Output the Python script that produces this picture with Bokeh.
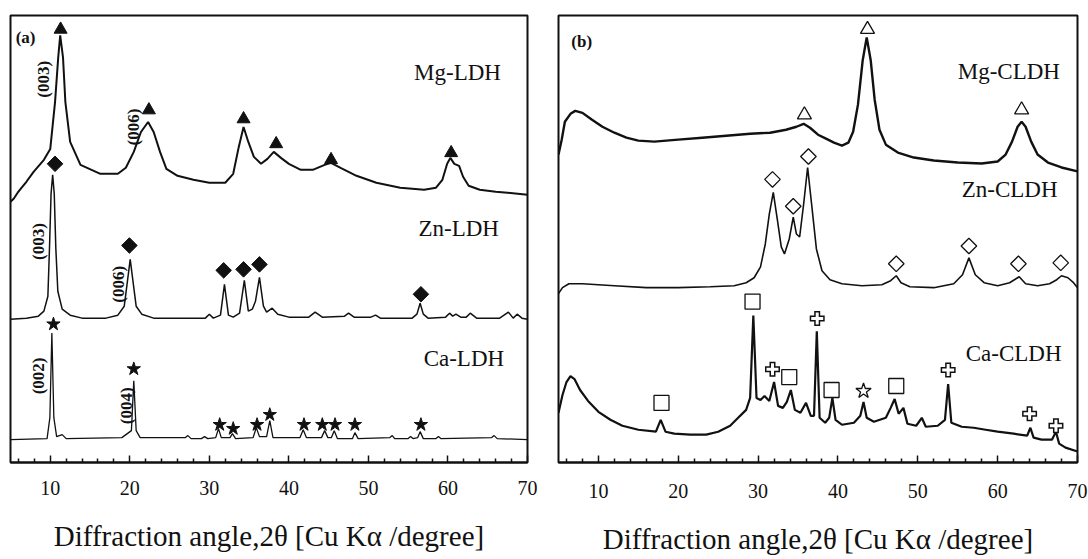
import numpy as np
from bokeh.plotting import figure
from bokeh.layouts import row
from bokeh.models import FixedTicker, Range1d
from bokeh.core.properties import value
from bokeh.embed import file_html
from bokeh.resources import INLINE

# ---------------- data: panel (a) ----------------
mg_ldh_x = [5.0, 5.4, 5.9, 6.3, 7.0, 7.9, 9.2, 10.0, 10.6, 11.0, 11.25, 11.6, 11.9, 12.5, 13.8, 16.3, 18.5, 19.5, 20.5, 21.4,
            22.3, 23.0, 23.8, 24.6, 26.0, 28.0, 30.0, 32.0, 33.0, 33.7, 34.3, 34.9, 35.6, 36.5, 37.3, 38.1, 39.0, 40.0, 41.5, 43.0,
            44.5, 45.3, 46.5, 48.5, 51.0, 54.0, 57.0, 58.5, 59.3, 59.9, 60.3, 60.8, 61.4, 61.9, 62.6, 64.0, 66.0, 67.5, 70.0]
mg_ldh_y = [262, 265, 271, 275, 282, 292, 304, 315, 362, 407, 429, 407, 362, 322, 299, 290, 290, 296, 312, 332,
            342, 332, 312, 295, 288, 284, 281, 281, 290, 317, 337, 322, 307, 300, 305, 312, 306, 300, 294, 294,
            299, 301, 296, 288, 281, 276, 274, 276, 284, 300, 306, 300, 298, 287, 278, 274, 272, 271, 269]

zn_ldh_x = [5.0, 7.0, 8.5, 9.2, 9.7, 9.9, 10.1, 10.3, 10.5, 10.7, 10.95, 11.5, 12.5, 14.0, 17.0, 18.5, 19.3, 19.7, 20.05, 20.4,
            20.8, 21.5, 23.0, 29.5, 30.0, 30.5, 31.4, 31.9, 32.4, 33.0, 33.8, 34.4, 34.9, 35.4, 35.8, 36.3, 36.8, 37.2, 37.9, 38.6,
            40.0, 42.5, 43.3, 44.2, 47.0, 47.5, 48.2, 50.3, 50.9, 51.5, 55.5, 56.1, 56.5, 56.9, 57.5, 59.7, 60.2, 60.6, 61.0, 61.6,
            62.3, 62.8, 63.6, 66.5, 67.6, 68.2, 68.7, 69.3, 70.0]
zn_ldh_y = [144, 145, 147, 152, 167, 215, 270, 289, 270, 215, 172, 154, 148, 145, 145, 148, 157, 182, 204, 182,
            157, 149, 145, 145, 149, 145, 148, 179, 148, 146, 150, 183, 152, 154, 162, 186, 157, 151, 155, 149,
            146, 146, 151, 146, 147, 150, 146, 146, 148, 145, 145, 149, 160, 149, 145, 146, 150, 147, 149, 146,
            146, 150, 145, 145, 151, 145, 149, 145, 144]

ca_ldh_x = [5.0, 9.6, 9.95, 10.2, 10.45, 10.8, 11.5, 12.0, 19.0, 20.2, 20.5, 20.8, 21.3, 27.0, 27.3, 27.7, 29.0, 29.4, 29.8, 30.8,
            31.15, 31.5, 32.6, 32.9, 33.3, 35.5, 35.9, 36.3, 37.2, 37.6, 38.0, 41.4, 41.8, 42.2, 44.1, 44.5, 44.9, 45.35, 45.7, 46.1,
            48.0, 48.3, 48.7, 52.7, 53.0, 53.3, 55.0, 55.3, 55.6, 56.2, 56.5, 56.9, 58.5, 58.8, 59.1, 65.5, 65.8, 66.2, 70.0]
ca_ldh_y = [23, 24, 45, 130, 45, 26, 28, 24, 25, 32, 82, 32, 25, 25, 27, 24, 24, 26, 24, 25,
            34, 25, 25, 29, 24, 25, 35, 26, 26, 42, 25, 25, 33, 25, 25, 32, 25, 25, 32, 24,
            24, 30, 24, 25, 27, 24, 24, 26, 24, 25, 31, 24, 24, 26, 24, 25, 27, 24, 23]

mg_tri_x = [11.3, 22.4, 34.3, 38.4, 45.3, 60.4]
mg_tri_y = [435, 354, 345, 320, 304, 311]
zn_dia_x = [10.6, 19.95, 31.8, 34.3, 36.3, 56.6]
zn_dia_y = [300, 218, 193, 194, 199, 169]
ca_star_x = [10.4, 20.5, 31.3, 33.0, 36.0, 37.6, 41.9, 44.2, 45.8, 48.3, 56.6]
ca_star_y = [139, 94, 38, 34, 38, 48, 38, 38, 38, 38, 38]

a_names = ["Mg-LDH", "Zn-LDH", "Ca-LDH"]
a_names_x = [61.2, 61.35, 62.0]
a_names_y = [392, 235, 104]
hkl_text = ["(003)", "(006)", "(003)", "(006)", "(002)", "(004)"]
hkl_x = [9.15, 20.5, 8.5, 18.6, 8.5, 19.6]
hkl_y = [385, 337, 222, 179, 87, 57]

# ---------------- data: panel (b) ----------------
mg_cldh_x = [5.0, 5.4, 5.8, 6.5, 7.1, 8.0, 9.2, 10.5, 12.0, 13.5, 15.0, 17.0, 20.0, 23.0, 26.0, 29.0, 31.5, 33.5, 34.8, 35.7,
             36.5, 37.5, 38.5, 39.5, 40.5, 41.3, 41.9, 42.5, 43.1, 43.6, 44.1, 44.6, 45.2, 46.0, 47.5, 49.5, 52.0, 55.0, 58.0, 60.0,
             61.0, 61.8, 62.5, 63.0, 63.5, 64.2, 65.0, 66.3, 68.0, 70.0]
mg_cldh_y = [310, 325, 343, 351, 354, 352, 345, 338, 332, 327, 324, 323, 325, 327, 329, 331, 332, 335, 338, 341,
             337, 330, 326, 322, 319, 322, 333, 360, 405, 428, 405, 365, 335, 320, 312, 307, 304, 302, 301, 303,
             310, 323, 338, 343, 338, 323, 310, 302, 297, 293]

zn_cldh_x = [5.0, 5.5, 6.3, 8.0, 12.0, 16.0, 20.0, 24.0, 27.0, 28.5, 29.5, 30.3, 30.9, 31.4, 31.9, 32.4, 32.9, 33.3, 33.9, 34.4,
             34.8, 35.2, 35.7, 36.2, 36.7, 37.3, 38.0, 39.0, 40.5, 43.0, 45.5, 46.6, 47.3, 47.9, 49.0, 52.0, 54.5, 55.6, 56.4, 57.2,
             58.3, 60.0, 61.5, 62.7, 63.5, 65.0, 66.5, 67.4, 68.0, 68.8, 69.5, 70.0]
zn_cldh_y = [170, 176, 180, 180, 178, 176, 176, 177, 178, 181, 186, 197, 220, 250, 272, 245, 217, 210, 225, 247,
             230, 227, 260, 297, 260, 215, 193, 184, 180, 178, 179, 183, 188, 181, 177, 176, 180, 189, 206, 189,
             181, 178, 181, 187, 180, 178, 180, 184, 188, 186, 181, 176]

ca_cldh_x = [5.0, 5.5, 6.0, 6.5, 7.0, 7.7, 8.7, 10.0, 11.5, 13.0, 15.0, 17.2, 17.8, 18.4, 19.5, 21.5, 23.5, 25.0, 26.5, 27.5,
             28.5, 29.0, 29.4, 29.8, 30.3, 30.8, 31.4, 32.0, 32.5, 33.1, 33.6, 34.1, 34.6, 35.3, 36.0, 36.6, 37.0, 37.35, 37.7, 38.4,
             38.9, 39.3, 39.7, 40.5, 42.0, 42.8, 43.2, 43.6, 44.5, 46.0, 46.6, 47.1, 47.6, 48.2, 48.7, 49.8, 50.5, 51.0, 52.5, 53.4,
             53.8, 54.2, 55.5, 57.0, 58.5, 60.0, 62.0, 63.7, 64.1, 64.5, 65.5, 66.8, 67.3, 67.7, 68.5, 70.0]
ca_cldh_y = [50, 68, 81, 87, 84, 73, 62, 51, 43, 37, 33, 31, 43, 31, 29, 28, 28, 31, 37, 45,
             53, 65, 148, 65, 63, 67, 62, 81, 57, 55, 61, 73, 53, 50, 60, 47, 47, 132, 45, 40,
             45, 65, 43, 38, 40, 47, 61, 45, 41, 45, 55, 64, 49, 55, 39, 37, 45, 36, 37, 43,
             79, 40, 36, 35, 33, 31, 29, 27, 35, 25, 23, 23, 31, 19, 15, 11]

mgc_tri_x = [35.8, 43.7, 63.0]
mgc_tri_y = [350, 436, 355]
znc_dia_x = [31.8, 34.4, 36.3, 47.3, 56.4, 62.6, 67.9]
znc_dia_y = [285, 258, 308, 200, 218, 200, 201]
cac_sq_x = [17.9, 29.3, 33.9, 39.2, 47.3]
cac_sq_y = [60, 162, 86, 73, 77]
cac_cross_x = [31.8, 37.4, 53.8, 64.0, 67.3]
cac_cross_y = [94, 145, 93, 49, 37]
cac_star_x = [43.2]
cac_star_y = [72]

b_names = ["Mg-CLDH", "Zn-CLDH", "Ca-CLDH"]
b_names_x = [61.4, 61.5, 62.0]
b_names_y = [394, 275, 110]

major_ticks = [10, 20, 30, 40, 50, 60, 70]
minor_ticks = [6, 8, 12, 14, 16, 18, 22, 24, 26, 28, 32, 34, 36, 38, 42, 44, 46, 48, 52, 54, 56, 58, 62, 64, 66, 68]
xlabel = "Diffraction angle,2\u03b8 [Cu K\u03b1 /degree]"
FONT = "Liberation Serif"
INK = "#111111"


def make_panel(width, height, mbl, mbr, mbt, mbb, ymax, tick_standoff, label_standoff):
    p = figure(width=width, height=height, output_backend="svg", toolbar_location=None,
               x_range=Range1d(5, 70), y_range=Range1d(0, ymax),
               min_border_left=mbl, min_border_right=mbr, min_border_top=mbt, min_border_bottom=mbb)
    p.xgrid.visible = False
    p.ygrid.visible = False
    p.yaxis.visible = False
    p.outline_line_color = INK
    p.outline_line_width = 2
    p.outline_line_alpha = 1
    ax = p.xaxis[0]
    ax.ticker = FixedTicker(ticks=major_ticks, minor_ticks=minor_ticks)
    ax.axis_line_width = 2
    ax.axis_line_color = INK
    ax.major_tick_in = 7
    ax.major_tick_out = 0
    ax.minor_tick_in = 4
    ax.minor_tick_out = 0
    ax.major_tick_line_width = 1.5
    ax.minor_tick_line_width = 1.5
    ax.major_tick_line_color = INK
    ax.minor_tick_line_color = INK
    ax.major_label_text_font = FONT
    ax.major_label_text_font_size = "20px"
    ax.major_label_text_color = INK
    ax.major_label_standoff = tick_standoff
    ax.axis_label = xlabel
    ax.axis_label_text_font = FONT
    ax.axis_label_text_font_size = "29px"
    ax.axis_label_text_font_style = "normal"
    ax.axis_label_text_color = INK
    ax.axis_label_standoff = label_standoff
    p.background_fill_color = "white"
    p.border_fill_color = "white"
    return p


# ---------------- panel (a) ----------------
pa = make_panel(540, 559, 10, 13, 13, 97, 449, 18, 22)
pa.line(mg_ldh_x, mg_ldh_y, line_color=INK, line_width=2)
pa.line(zn_ldh_x, zn_ldh_y, line_color=INK, line_width=1.5)
pa.line(ca_ldh_x, ca_ldh_y, line_color=INK, line_width=1.3)
pa.scatter(mg_tri_x, mg_tri_y, marker="triangle", size=13, fill_color=INK, line_color=INK)
pa.scatter(zn_dia_x, zn_dia_y, marker="square", angle=np.pi / 4, size=11, fill_color=INK, line_color=INK)
pa.scatter(ca_star_x, ca_star_y, marker="star", size=14, fill_color=INK, line_color=INK)
pa.text(a_names_x, a_names_y, text=a_names, text_font=value(FONT), text_font_size="23px",
        text_align="center", text_baseline="middle", text_color=INK)
pa.text(hkl_x, hkl_y, text=hkl_text, angle=np.pi / 2, text_font=value(FONT), text_font_size="17px",
        text_font_style="bold", text_align="center", text_baseline="middle", text_color=INK)
pa.text([6.9], [427], text=["(a)"], text_font=value(FONT), text_font_size="17px", text_font_style="bold",
        text_align="center", text_baseline="middle", text_color=INK)

# ---------------- panel (b) ----------------
pb = make_panel(548, 559, 18, 11, 15, 94, 450, 21, 22)
pb.line(mg_cldh_x, mg_cldh_y, line_color=INK, line_width=2.4)
pb.line(zn_cldh_x, zn_cldh_y, line_color=INK, line_width=1.6)
pb.line(ca_cldh_x, ca_cldh_y, line_color=INK, line_width=2.2)
pb.scatter(mgc_tri_x, mgc_tri_y, marker="triangle", size=14, fill_color="white", line_color=INK, line_width=1.3)
pb.scatter(znc_dia_x, znc_dia_y, marker="square", angle=np.pi / 4, size=11, fill_color="white", line_color=INK, line_width=1.3)
pb.scatter(cac_sq_x, cac_sq_y, marker="square", size=15, fill_color="white", line_color=INK, line_width=1.3)
pb.scatter(cac_cross_x, cac_cross_y, marker="cross", size=15, line_color=INK, line_width=6)
pb.scatter(cac_cross_x, cac_cross_y, marker="cross", size=12, line_color="white", line_width=3)
pb.scatter(cac_star_x, cac_star_y, marker="star", size=16, fill_color="white", line_color=INK, line_width=1.3)
pb.text(b_names_x, b_names_y, text=b_names, text_font=value(FONT), text_font_size="23px",
        text_align="center", text_baseline="middle", text_color=INK)
pb.text([7.9], [424], text=["(b)"], text_font=value(FONT), text_font_size="17px", text_font_style="bold",
        text_align="center", text_baseline="middle", text_color=INK)

layout = row(pa, pb)
open("out.html", "w").write(file_html(layout, INLINE))
